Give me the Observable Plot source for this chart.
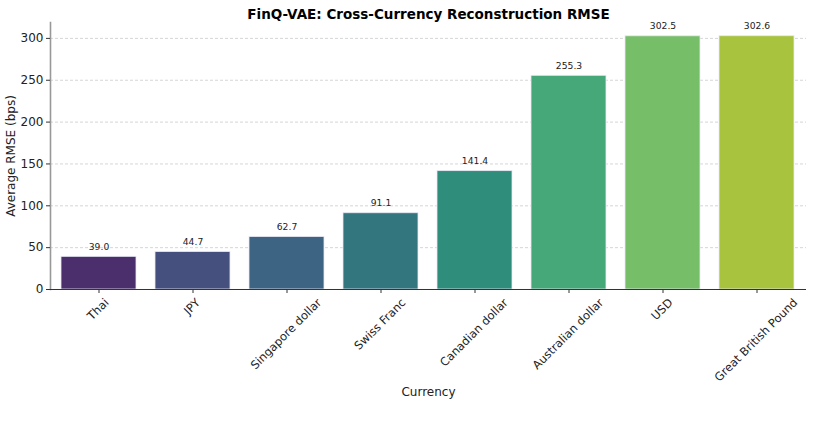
<!DOCTYPE html>
<html>
<head>
<meta charset="utf-8">
<script src="https://cdn.jsdelivr.net/npm/d3@7"></script>
<script src="https://cdn.jsdelivr.net/npm/@observablehq/plot@0.6"></script>
<style>
  body { margin: 0; background: #fff; }
  svg { font-family: "DejaVu Sans", sans-serif; }
</style>
</head>
<body>
<div id="chart"></div>
<script>
const currencies = ["Thai", "JPY", "Singapore dollar", "Swiss Franc", "Canadian dollar", "Australian dollar", "USD", "Great British Pound"];
const rmse = [39.0, 44.7, 62.7, 91.1, 141.4, 255.3, 302.5, 302.6];
const barColors = ["#4a2f6c", "#46507e", "#3d6583", "#33767e", "#2e8d7b", "#46a878", "#77be69", "#a8c43f"];
const yTicks = [0, 50, 100, 150, 200, 250, 300];
const titleText = "FinQ-VAE: Cross-Currency Reconstruction RMSE";

const data = currencies.map((c, i) => ({currency: c, value: rmse[i], color: barColors[i]}));

// measure tick label widths so rotated labels can be centred under their ticks (matplotlib style)
const tickFont = 11.5;
const ctx = document.createElement("canvas").getContext("2d");
ctx.font = `${tickFont}px "DejaVu Sans"`;
const k = Math.SQRT1_2;
const tickLabelMarks = currencies.map(c => {
  const L = ctx.measureText(c).width;
  const h = tickFont * 1.0;
  return Plot.text([c], {
    x: d => d, frameAnchor: "bottom", text: d => d,
    rotate: -45, textAnchor: "end", lineAnchor: "top",
    dx: k * (L - h) / 2, dy: 8, fontSize: tickFont, fill: "#222"
  });
});

const chart = Plot.plot({
  width: 814,
  height: 425,
  marginLeft: 50,
  marginRight: 8,
  marginTop: 22,
  marginBottom: 136,
  style: {fontFamily: "DejaVu Sans, sans-serif", background: "#fff"},
  x: {domain: currencies, paddingInner: 0.2, paddingOuter: 0.1},
  y: {domain: [0, 319]},
  marks: [
    Plot.gridY(yTicks, {stroke: "#cccccc", strokeOpacity: 1, strokeDasharray: "3,2", strokeWidth: 0.8}),
    Plot.barY(data, {x: "currency", y: "value", fill: "color", stroke: "#e8e8f4", strokeWidth: 0.8}),
    Plot.text(data, {x: "currency", y: "value", text: d => d.value.toFixed(1), dy: -10, fontSize: 9.2, fill: "#222"}),
    Plot.frame({anchor: "left", stroke: "#999", strokeWidth: 1.6}),
    Plot.ruleY([0], {stroke: "#333", strokeWidth: 1.2}),
    Plot.axisY({ticks: yTicks, tickSize: 4, tickPadding: 3, fontSize: 12, fill: "#222", stroke: "#333",
      label: "Average RMSE (bps)", labelAnchor: "center", labelArrow: "none", labelOffset: 44}),
    Plot.axisX({tickSize: 4, tickFormat: () => "", stroke: "#333",
      label: "Currency", labelAnchor: "center", labelArrow: "none", labelOffset: 106, fontSize: 12, fill: "#222"}),
    ...tickLabelMarks,
    Plot.text([titleText], {frameAnchor: "top", dy: -13, fontSize: 13.5, fontWeight: "bold", fill: "#000"})
  ]
});
document.getElementById("chart").appendChild(chart);
</script>
</body>
</html>
